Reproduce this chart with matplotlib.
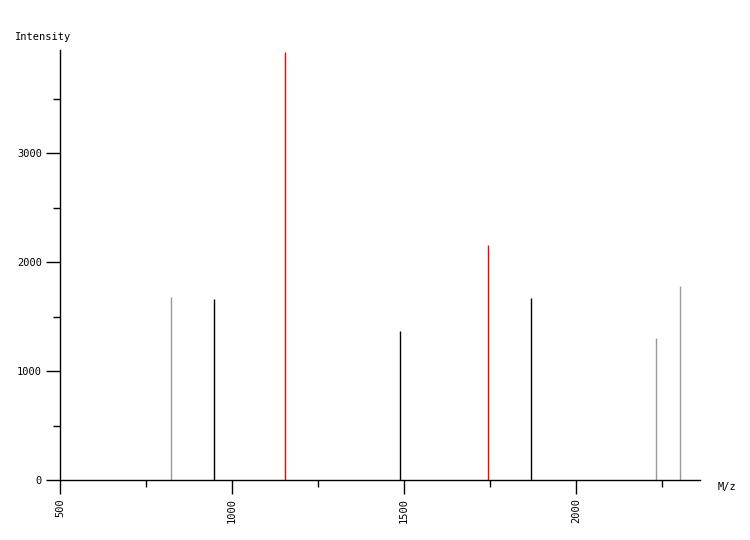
import matplotlib
matplotlib.use("Agg")
import matplotlib.pyplot as plt
from matplotlib.ticker import MultipleLocator

mz = [822.7, 947.7, 1154.0, 1488.0, 1744.0, 1869.0, 2233.0, 2302.0]
intensity = [1679, 1661, 3927, 1367, 2156, 1670, 1303, 1780]
colors = ["#999999", "black", "red", "black", "red", "black", "#999999", "#999999"]
x_ticks = [500, 1000, 1500, 2000]
y_ticks = [0, 1000, 2000, 3000]

W, H = 750, 540
fig = plt.figure(figsize=(W / 100, H / 100), dpi=100)
ax = fig.add_axes([60 / W, (H - 480) / H, (700 - 60) / W, (480 - 50) / H])

ax.vlines(mz, 0, intensity, colors=colors, linewidth=1.0)

ax.set_xlim(500, 2360)
ax.set_ylim(0, 3945)
for s in ["top", "right"]:
    ax.spines[s].set_visible(False)
for s in ["left", "bottom"]:
    ax.spines[s].set_linewidth(1.0)

ax.set_xticks(x_ticks)
ax.set_xticklabels([str(t) for t in x_ticks], rotation=90, family="DejaVu Sans Mono", fontsize=7.5)
ax.xaxis.set_minor_locator(MultipleLocator(250))
ax.set_yticks(y_ticks)
ax.set_yticklabels([str(t) for t in y_ticks], family="DejaVu Sans Mono", fontsize=7.5)
ax.yaxis.set_minor_locator(MultipleLocator(500))
ax.tick_params(which="major", length=10, width=1, pad=3)
ax.tick_params(which="minor", length=5, width=1)

fig.text(15 / W, 1 - 37 / H, "Intensity", family="DejaVu Sans Mono", fontsize=7.5, va="center", ha="left")
fig.text(718 / W, 1 - 487 / H, "M/z", family="DejaVu Sans Mono", fontsize=7.5, va="center", ha="left")

fig.savefig("out.png", dpi=100)
